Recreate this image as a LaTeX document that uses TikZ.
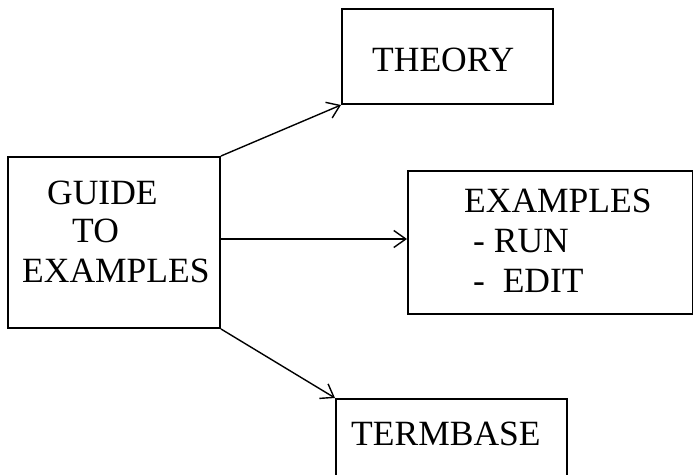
\documentclass[tikz,border=0pt]{standalone}
\usepackage{fontspec}
\setmainfont{Liberation Serif}
\usetikzlibrary{arrows.meta}
\begin{document}
\begin{tikzpicture}[x=1pt,y=1pt,
  box/.style={draw=black, line width=2pt, inner sep=0pt, anchor=north west},
  lbl/.style={anchor=base west, inner sep=0pt, font=\fontsize{35.5}{40}\selectfont},
  conn/.style={line width=1.4pt, -{Straight Barb[length=12pt,width=17pt,line width=1.4pt]}}]
\useasboundingbox (0,0) rectangle (693,474);
\clip (0,0) rectangle (693,474);
% boxes (image coords: y = 474 - y_img)
\node[box, minimum width=212pt, minimum height=171pt] (guide) at (7,474-156) {};
\node[box, minimum width=211pt, minimum height=95pt] (theory) at (341,474-8) {};
\node[box, minimum width=285pt, minimum height=143pt] (examples) at (407,474-170) {};
\node[box, minimum width=231pt, minimum height=100pt] (termbase) at (335,474-398) {};
% texts
\node[lbl] (g1) at (47,474-205) {GUIDE};
\node[lbl] (g2) at (72,474-243) {TO};
\node[lbl] (g3) at (22,474-283) {EXAMPLES};
\node[lbl] (t1) at (372,474-72) {THEORY};
\node[lbl] (e1) at (464,474-213) {EXAMPLES};
\node[lbl] (e2) at (473,474-253) {- RUN};
\node[lbl] (e3) at (473,474-293) {-\ \ EDIT};
\node[lbl] (b1) at (351,474-445) {TERMBASE};
% connectors
\draw[conn] (guide.north east) -- (theory.south west);
\draw[conn] ([yshift=3.5pt]guide.east) -- ([yshift=3.5pt]examples.west);
\draw[conn] (guide.south east) -- (termbase.north west);
\end{tikzpicture}
\end{document}
